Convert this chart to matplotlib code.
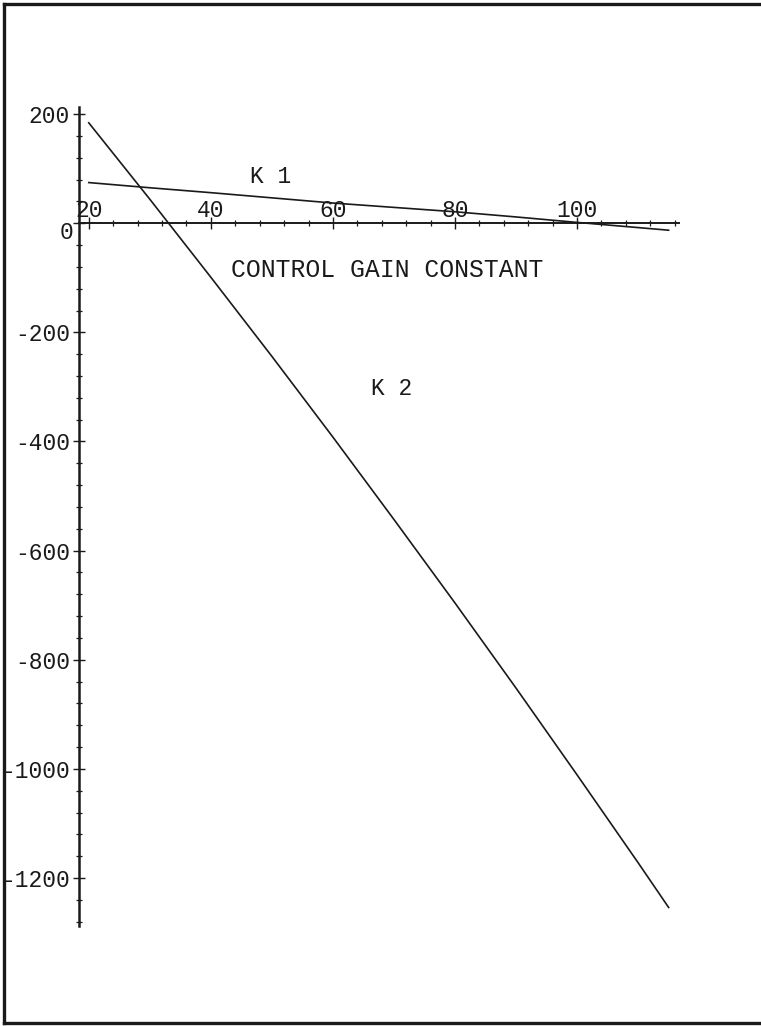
import matplotlib
matplotlib.use("Agg")
import matplotlib.pyplot as plt
from matplotlib.lines import Line2D
from matplotlib.ticker import MultipleLocator, FixedLocator, FuncFormatter

plt.rcParams['font.family'] = ['Liberation Mono', 'DejaVu Sans Mono']
plt.rcParams['axes.unicode_minus'] = False

# values
gain = [20, 30, 40, 50, 60, 70, 80, 90, 100, 110, 115]
k1 = [74.5, 65, 56, 46.5, 37, 29, 21, 11.5, 1.5, -8, -12.8]
k2 = [184, 44, -99, -244, -392, -543, -696, -852, -1011, -1172, -1254]

x_ticks = [20, 40, 60, 80, 100]
y_ticks = [200, 0, -200, -400, -600, -800, -1000, -1200]

W, H = 761, 1026
fig = plt.figure(figsize=(W / 100, H / 100), dpi=100)

# axes placed so the y axis sits at x~79px and spans 107..926 px
ax = fig.add_axes([79 / W, 1 - 926 / H, 600 / W, 819 / H])
ax.set_xlim(18.4, 116.7)
ax.set_ylim(-1288, 213)

ink = '#1a1a1a'
ax.plot(gain, k1, color=ink, lw=1.2)
ax.plot(gain, k2, color=ink, lw=1.2)

for s in ['top', 'right']:
    ax.spines[s].set_visible(False)
ax.spines['bottom'].set_position(('data', 0))
ax.spines['bottom'].set_linewidth(1.4)
ax.spines['left'].set_linewidth(1.8)
ax.spines['bottom'].set_color(ink)
ax.spines['left'].set_color(ink)

ax.xaxis.set_major_locator(FixedLocator(x_ticks))
ax.xaxis.set_minor_locator(MultipleLocator(4))
ax.yaxis.set_major_locator(FixedLocator(y_ticks))
ax.yaxis.set_minor_locator(MultipleLocator(40))
ax.xaxis.set_major_formatter(FuncFormatter(lambda v, p: f"{v:g}"))
# the zero label sits a bit lower in the original, drawn separately below
ax.yaxis.set_major_formatter(FuncFormatter(lambda v, p: "" if v == 0 else f"{v:g}"))

ax.tick_params(axis='both', which='major', direction='inout', length=9,
               width=1.0, color=ink, labelsize=16.5, labelcolor=ink)
ax.tick_params(axis='both', which='minor', direction='inout', length=4,
               width=0.9, color=ink)
ax.tick_params(axis='x', which='major', pad=-22)
ax.tick_params(axis='y', which='major', pad=2)
ax.patch.set_alpha(0)

ax.annotate("0", xy=(18.4, 0), xytext=(-6, -9), textcoords='offset pixels',
            ha='right', va='center', fontsize=16.5, color=ink)

ax.text(49.8, 86, "K 1", fontsize=16.5, color=ink, ha='center', va='center')
ax.text(69.7, -302, "K 2", fontsize=16.5, color=ink, ha='center', va='center')
ax.text(68.9, -86, "CONTROL GAIN CONSTANT", fontsize=17.8, color=ink,
        ha='center', va='center')

# outer frame (left, top, bottom)
fx = lambda px: px / W
fy = lambda py: 1 - py / H
fr = dict(color=ink, lw=2.4, transform=fig.transFigure)
fig.add_artist(Line2D([fx(4), fx(4)], [fy(4), fy(1023)], **fr))
fig.add_artist(Line2D([fx(4), fx(761)], [fy(4), fy(4)], **fr))
fig.add_artist(Line2D([fx(4), fx(761)], [fy(1023), fy(1023)], **fr))

fig.savefig("out.png", dpi=100, facecolor='white')
